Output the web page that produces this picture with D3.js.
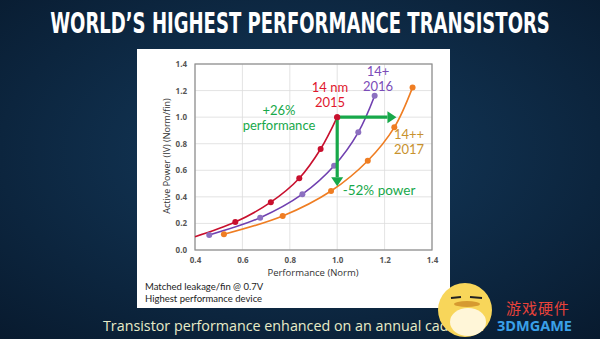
<!DOCTYPE html>
<html><head><meta charset="utf-8">
<script src="https://cdn.jsdelivr.net/npm/d3@7"></script>
<style>html,body{margin:0;padding:0;background:#0c2640;}svg{display:block;}</style>
</head><body>
<svg id="c" width="600" height="339"></svg>
<script>
// ---- data ----
const xTicks = [0.4, 0.6, 0.8, 1.0, 1.2, 1.4];
const yTicks = [0.0, 0.2, 0.4, 0.6, 0.8, 1.0, 1.2, 1.4];
const redX = [0.40, 0.57, 0.72, 0.84, 0.93, 1.00];
const redY = [0.10, 0.21, 0.36, 0.54, 0.76, 1.00];
const purpleX = [0.46, 0.675, 0.853, 0.987, 1.089, 1.158];
const purpleY = [0.113, 0.243, 0.42, 0.634, 0.886, 1.161];
const orangeX = [0.522, 0.77, 0.974, 1.129, 1.241, 1.318];
const orangeY = [0.118, 0.256, 0.444, 0.672, 0.923, 1.224];
const redMarkerFrom = 1; // first red point is the line start only
const perfArrow = {x0: 1.0, y0: 1.0, x1: 1.25, y1: 1.0};
const powerArrow = {x0: 1.0, y0: 1.0, x1: 1.0, y1: 0.48};

const svg = d3.select("#c");
const defs = svg.append("defs");
const bg = defs.append("radialGradient").attr("id","bg").attr("cx","50%").attr("cy","45%").attr("r","75%");
bg.append("stop").attr("offset","0%").attr("stop-color","#143b5e");
bg.append("stop").attr("offset","100%").attr("stop-color","#081a2e");
svg.append("rect").attr("width",600).attr("height",339).attr("fill","url(#bg)");

// title (condensed by horizontal scaling to fit its width)
const title = svg.append("text").attr("x",0).attr("y",0).attr("text-anchor","middle")
  .attr("font-family","'DejaVu Sans Condensed','DejaVu Sans',sans-serif")
  .attr("font-weight","bold").attr("font-size",28).attr("fill","#ffffff")
  .text("WORLD’S HIGHEST PERFORMANCE TRANSISTORS");
const tw = title.node().getComputedTextLength();
title.attr("transform",`translate(300,33) scale(${500/tw},1)`);

// white panel
svg.append("rect").attr("x",137).attr("y",49).attr("width",313).attr("height",259).attr("fill","#ffffff");

const x = d3.scaleLinear().domain([0.4,1.4]).range([195,432]);
const y = d3.scaleLinear().domain([0,1.4]).range([250,64]);

const g = svg.append("g");
// grid
g.selectAll(".gx").data(xTicks).join("line").attr("x1",d=>x(d)).attr("x2",d=>x(d))
  .attr("y1",y(0)).attr("y2",y(1.4)).attr("stroke","#dcdcdc").attr("stroke-width",0.8);
g.selectAll(".gy").data(yTicks).join("line").attr("y1",d=>y(d)).attr("y2",d=>y(d))
  .attr("x1",x(0.4)).attr("x2",x(1.4)).attr("stroke","#dcdcdc").attr("stroke-width",0.8);
g.append("rect").attr("x",x(0.4)).attr("y",y(1.4)).attr("width",x(1.4)-x(0.4)).attr("height",y(0)-y(1.4))
  .attr("fill","none").attr("stroke","#8c8c8c").attr("stroke-width",1.2);

// axes
const xa = svg.append("g").attr("transform",`translate(0,${y(0)})`)
  .call(d3.axisBottom(x).tickValues(xTicks).tickFormat(d3.format(".1f")).tickSize(0).tickPadding(7));
const ya = svg.append("g").attr("transform",`translate(${x(0.4)},0)`)
  .call(d3.axisLeft(y).tickValues(yTicks).tickFormat(d3.format(".1f")).tickSize(0).tickPadding(8));
[xa,ya].forEach(a=>{a.select(".domain").remove();
  a.selectAll("text").attr("font-family","'Open Sans',sans-serif").attr("font-size",8).attr("font-weight","bold").attr("fill","#555");});

svg.append("text").attr("x",313).attr("y",276).attr("text-anchor","middle")
  .attr("font-family","'Open Sans',sans-serif").attr("font-size",9.5).attr("fill","#333").text("Performance (Norm)");
svg.append("text").attr("transform","translate(170,156) rotate(-90)").attr("text-anchor","middle")
  .attr("font-family","'Open Sans',sans-serif").attr("font-size",9).attr("fill","#333").text("Active Power (IV) (Norm/fin)");

// series
const series = [
  {xs: redX, ys: redY, color: "#c8102e", from: redMarkerFrom},
  {xs: purpleX, ys: purpleY, color: "#7040b0", from: 0},
  {xs: orangeX, ys: orangeY, color: "#ef7d22", from: 0}
];
const line = d3.line().x(d=>x(d[0])).y(d=>y(d[1])).curve(d3.curveCatmullRom.alpha(0.5));
const mcol = ["#c8102e","#8c70c0","#ef7d22"];
series.forEach((s,i)=>{
  const pts = s.xs.map((v,j)=>[v,s.ys[j]]);
  g.append("path").attr("d",line(pts)).attr("fill","none").attr("stroke",s.color).attr("stroke-width",1.6);
  g.selectAll(null).data(pts.slice(s.from)).join("circle").attr("cx",d=>x(d[0])).attr("cy",d=>y(d[1]))
    .attr("r",3).attr("fill",mcol[i]);
});

// arrows
const green = "#17a84a";
function arrow(a, horiz){
  const x0=x(a.x0), y0=y(a.y0), x1=x(a.x1), y1=y(a.y1);
  const h=9, w=6;
  if(horiz){
    g.append("line").attr("x1",x0).attr("y1",y0).attr("x2",x1-h).attr("y2",y1).attr("stroke",green).attr("stroke-width",3.2);
    g.append("path").attr("d",`M${x1},${y1}L${x1-h},${y1-w}L${x1-h},${y1+w}Z`).attr("fill",green);
  } else {
    g.append("line").attr("x1",x0).attr("y1",y0).attr("x2",x1).attr("y2",y1-h).attr("stroke",green).attr("stroke-width",3.2);
    g.append("path").attr("d",`M${x1},${y1}L${x1-w},${y1-h}L${x1+w},${y1-h}Z`).attr("fill",green);
  }
}
arrow(perfArrow,true);
arrow(powerArrow,false);
g.append("circle").attr("cx",x(1.0)).attr("cy",y(1.0)).attr("r",3).attr("fill","#c8102e");

// annotations
function label(tx,ty,t,c,fs){svg.append("text").attr("x",tx).attr("y",ty).attr("text-anchor","middle")
  .attr("font-family","Lato,sans-serif").attr("font-size",fs||13).attr("fill",c).text(t);}
label(279,115,"+26%",green);
label(279,130,"performance",green);
label(330,92,"14 nm","#e0182d");
label(330,107,"2015","#e0182d");
label(378,76,"14+","#7a4cb8");
label(378,91,"2016","#7a4cb8");
label(409,139,"14++","#c8922e");
label(409,154,"2017","#c8922e");
label(379,195,"-52% power",green,13.5);

// footnotes
function note(ty,t){svg.append("text").attr("x",145).attr("y",ty).attr("font-family","Lato,sans-serif")
  .attr("font-size",9.5).attr("fill","#222").text(t);}
note(290,"Matched leakage/fin @ 0.7V");
note(301.5,"Highest performance device");

// caption
svg.append("text").attr("x",103).attr("y",331).attr("font-family","'Open Sans',sans-serif")
  .attr("font-size",14.3).attr("fill","#e8ecc8").text("Transistor performance enhanced on an annual cadence.");

// watermark
const wm = svg.append("g");
wm.append("ellipse").attr("cx",465).attr("cy",310).attr("rx",27).attr("ry",27).attr("fill","#f8d65a");
wm.append("ellipse").attr("cx",468).attr("cy",322).attr("rx",18).attr("ry",14).attr("fill","#fff6d8");
wm.append("line").attr("x1",451).attr("x2",461).attr("y1",298).attr("y2",297).attr("stroke","#222").attr("stroke-width",2);
wm.append("line").attr("x1",470).attr("x2",482).attr("y1",297).attr("y2",298).attr("stroke","#222").attr("stroke-width",2);
wm.append("ellipse").attr("cx",467).attr("cy",304).attr("rx",13).attr("ry",3).attr("fill","#d69a30");
wm.append("text").attr("x",506).attr("y",314).attr("font-family","'Noto Sans CJK SC',sans-serif").attr("font-size",15)
  .attr("fill","#e8423a").attr("letter-spacing",1).text("游戏硬件");
wm.append("text").attr("x",497).attr("y",331).attr("font-family","'Open Sans',sans-serif").attr("font-weight","bold")
  .attr("font-size",14.5).attr("fill","#3aa0e8").text("3DMGAME");
</script>
</body></html>
